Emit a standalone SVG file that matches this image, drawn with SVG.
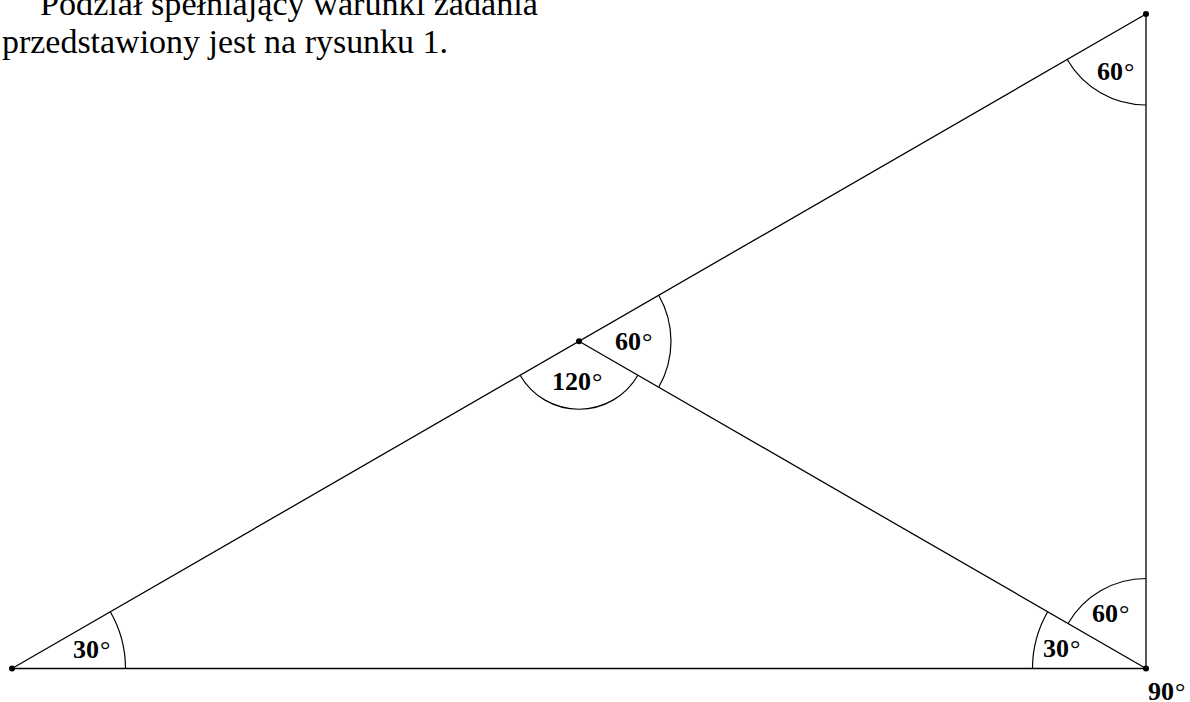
<svg xmlns="http://www.w3.org/2000/svg" width="1190" height="702" viewBox="0 0 1190 702">
<style>
.ln{stroke:#000;stroke-width:1.3;fill:none;stroke-linecap:round}
.arc{stroke:#000;stroke-width:1.2;fill:none}
.lbl{font-family:"Liberation Serif","DejaVu Serif",serif;font-weight:bold;font-size:26px;fill:#000}
.deg{font-weight:normal}
.txt{font-family:"Liberation Serif","DejaVu Serif",serif;font-size:34px;fill:#000}
</style>
<rect width="1190" height="702" fill="#fff"/>
<g id="caption">
<text class="txt" x="40" y="15" textLength="498" lengthAdjust="spacingAndGlyphs">Podział spełniający warunki zadania</text>
<text class="txt" x="2" y="53" textLength="446" lengthAdjust="spacingAndGlyphs">przedstawiony jest na rysunku 1.</text>
</g>
<g id="connectors">
<line class="ln" x1="12" y1="668.5" x2="1146" y2="668.5"/>
<line class="ln" x1="1146" y1="668.5" x2="1146" y2="14"/>
<line class="ln" x1="12" y1="668.5" x2="1146" y2="14"/>
<line class="ln" x1="579" y1="341.25" x2="1146" y2="668.5"/>
</g>
<g id="angle-A">
<path class="arc" d="M125.5,668.5 A113.5,113.5 0 0 0 110.29,611.75"/>
<text class="lbl" x="73" y="658">30<tspan class="deg" dx="1">°</tspan></text>
</g>
<g id="angle-B">
<path class="arc" d="M1032.5,668.5 A113.5,113.5 0 0 1 1047.71,611.75"/>
<path class="arc" d="M1146,578.5 A90,90 0 0 0 1068.06,623.5"/>
<text class="lbl" x="1043" y="657">30<tspan class="deg" dx="1">°</tspan></text>
<text class="lbl" x="1092" y="622">60<tspan class="deg" dx="1">°</tspan></text>
<text class="lbl" x="1148" y="700">90<tspan class="deg" dx="1">°</tspan></text>
</g>
<g id="angle-C">
<path class="arc" d="M1146,105 A91,91 0 0 1 1067.2,59.5"/>
<text class="lbl" x="1097" y="80">60<tspan class="deg" dx="1">°</tspan></text>
</g>
<g id="angle-M">
<path class="arc" d="M658.67,295.25 A92,92 0 0 1 658.67,387.25"/>
<path class="arc" d="M520.11,375.25 A68,68 0 0 0 637.89,375.25"/>
<text class="lbl" x="552" y="390">120<tspan class="deg" dx="1">°</tspan></text>
<text class="lbl" x="615" y="350">60<tspan class="deg" dx="1">°</tspan></text>
</g>
<g id="points">
<circle cx="12" cy="668.5" r="3"/>
<circle cx="1146" cy="668.5" r="3"/>
<circle cx="1146" cy="14" r="3"/>
<circle cx="579" cy="341.25" r="3"/>
</g>
</svg>
